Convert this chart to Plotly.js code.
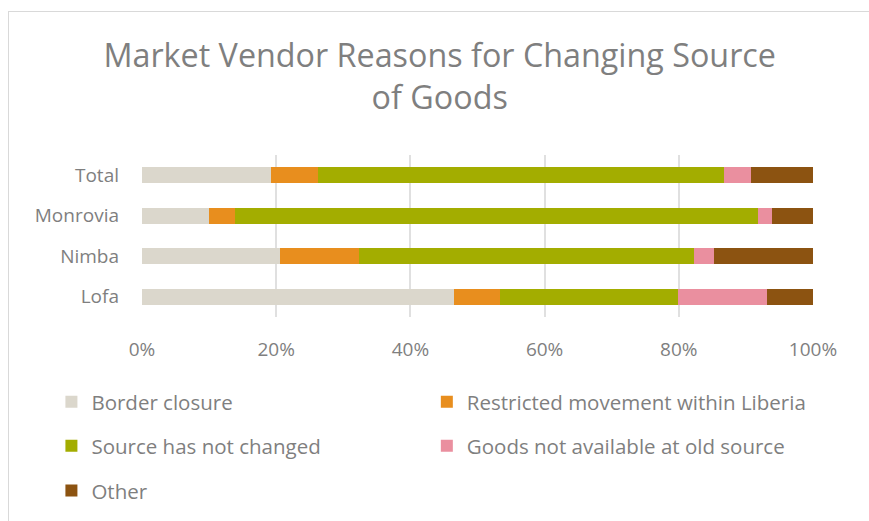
<!DOCTYPE html>
<html>
<head>
<meta charset="utf-8">
<script src="https://cdn.plot.ly/plotly-3.0.1.min.js"></script>
<style>
  body { margin: 0; background: #fff; }
  #chart { position: absolute; left: 0; top: 0; width: 869px; height: 521px; }
  #frame { position: absolute; left: 8px; top: 11px; width: 870px; height: 530px;
           border: 1px solid #d9d9d9; box-sizing: border-box; pointer-events: none; }
</style>
</head>
<body>
<div id="chart"></div>
<div id="frame"></div>
<script>
// regions, bottom to top as drawn
var regions = ['Lofa', 'Nimba', 'Monrovia', 'Total'];

// shares in percent, same order as regions
var borderClosure = [46.5, 20.5, 10.0, 19.2];
var restrictedMove = [6.8, 11.8, 3.9, 7.0];
var notChanged = [26.6, 49.9, 77.9, 60.5];
var notAvailable = [13.3, 3.0, 2.1, 4.1];
var other = [6.8, 14.8, 6.1, 9.2];

var xTicks = [0, 20, 40, 60, 80, 100];
var xTickText = ['0%', '20%', '40%', '60%', '80%', '100%'];

var gray = '#7f7f7f';
var font = 'Open Sans, sans-serif';

function bar(name, vals, color, legend) {
  return {
    type: 'bar',
    orientation: 'h',
    name: name,
    x: vals,
    y: regions,
    marker: { color: color },
    legend: legend,
    hoverinfo: 'x+name'
  };
}

var data = [
  bar('Border closure', borderClosure, '#dbd7cc', 'legend'),
  bar('Restricted movement within Liberia', restrictedMove, '#e88e1e', 'legend2'),
  bar('Source has not changed', notChanged, '#a3ad00', 'legend3'),
  bar('Goods not available at old source', notAvailable, '#ea8f9f', 'legend4'),
  bar('Other', other, '#8c5311', 'legend5')
];

// one legend per entry so the two-column grid can be placed exactly
function legendAt(x, y) {
  return {
    orientation: 'h',
    x: x,
    xanchor: 'left',
    y: y,
    yanchor: 'middle',
    font: { family: font, size: 20.5, color: gray },
    bgcolor: 'rgba(0,0,0,0)'
  };
}

var col1 = -0.135, col2 = 0.4245;
var row1 = -0.515, row2 = -0.785, row3 = -1.06;

var layout = {
  width: 869,
  height: 521,
  paper_bgcolor: '#fff',
  plot_bgcolor: '#fff',
  barmode: 'stack',
  bargap: 0.6,
  margin: { l: 142, r: 56, t: 155, b: 203 },
  title: {
    text: 'Market Vendor Reasons for Changing Source<br>of Goods',
    font: { family: font, size: 32.3, color: gray },
    x: 0.506,
    xanchor: 'center',
    yref: 'container',
    y: 0.871,
    yanchor: 'middle'
  },
  xaxis: {
    range: [0, 100],
    tickvals: xTicks,
    ticktext: xTickText,
    showgrid: true,
    gridcolor: '#e0e0e0',
    gridwidth: 1.5,
    zeroline: false,
    showline: false,
    ticks: '',
    ticklabelstandoff: 19,
    tickfont: { family: font, size: 19, color: gray },
    fixedrange: true
  },
  yaxis: {
    categoryorder: 'array',
    categoryarray: regions,
    showgrid: false,
    showline: false,
    ticks: '',
    ticklabelstandoff: 22,
    tickfont: { family: font, size: 19, color: gray },
    fixedrange: true
  },
  showlegend: true,
  legend: legendAt(col1, row1),
  legend2: legendAt(col2, row1),
  legend3: legendAt(col1, row2),
  legend4: legendAt(col2, row2),
  legend5: legendAt(col1, row3)
};

Plotly.newPlot('chart', data, layout, { displayModeBar: false });
</script>
</body>
</html>
